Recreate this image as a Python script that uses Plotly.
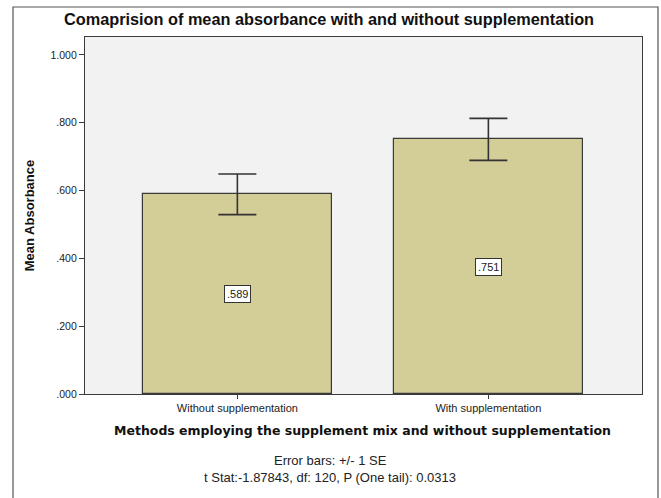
import plotly.graph_objects as go

# Data
categories = ["Without supplementation", "With supplementation"]
mean_absorbance = [0.589, 0.751]
std_error = [0.060, 0.062]
y_tick_values = [0.0, 0.2, 0.4, 0.6, 0.8, 1.0]
y_tick_labels = [".000", ".200", ".400", ".600", ".800", "1.000"]

BAR_FILL = "#d3cd98"
EDGE = "#3a3a3a"
FONT = "Liberation Sans, Arial, sans-serif"

W, H = 661, 498
L, R, T, B = 85, 19, 37, 104
pw, ph = W - L - R, H - T - B


def py(pixel_y):
    """Pixel row (from top of page) -> paper y coordinate."""
    return (H - B - pixel_y) / ph


def px(pixel_x):
    """Pixel column (from left of page) -> paper x coordinate."""
    return (pixel_x - L) / pw


fig = go.Figure()
fig.add_trace(go.Bar(
    x=categories,
    y=mean_absorbance,
    width=0.753,
    marker=dict(color=BAR_FILL, line=dict(color=EDGE, width=1.2)),
    error_y=dict(type="data", array=std_error, visible=True,
                 color="#333333", thickness=1.6, width=19),
    hoverinfo="skip",
))

# Value labels in the middle of each bar
for cat, val in zip(categories, mean_absorbance):
    fig.add_annotation(
        x=cat, y=val / 2, xref="x", yref="y",
        text=f"{val:.3f}".lstrip("0"),
        showarrow=False,
        font=dict(family=FONT, size=11, color="#222222"),
        bgcolor="white", bordercolor="#333333", borderwidth=1, borderpad=2,
    )

# Axis title and footnotes below the plot
fig.add_annotation(x=px(362), y=py(430), xref="paper", yref="paper",
                   xanchor="center", yanchor="middle",
                   text="<b>Methods employing the supplement mix and without supplementation</b>",
                   showarrow=False,
                   font=dict(family="DejaVu Sans, Verdana, sans-serif", size=12.5,
                             color="#111111"))
fig.add_annotation(x=px(330), y=py(460), xref="paper", yref="paper",
                   xanchor="center", yanchor="middle",
                   text="Error bars: +/- 1 SE", showarrow=False,
                   font=dict(family=FONT, size=13, color="#222222"))
fig.add_annotation(x=px(330), y=py(477), xref="paper", yref="paper",
                   xanchor="center", yanchor="middle",
                   text="t Stat:-1.87843, df: 120, P (One tail): 0.0313",
                   showarrow=False,
                   font=dict(family=FONT, size=13, color="#222222"))

# Outer frame around the whole chart
fig.add_shape(type="rect", xref="paper", yref="paper",
              x0=px(13), x1=px(658), y0=py(510), y1=py(7),
              line=dict(color="#555555", width=1.2))

fig.update_layout(
    width=W, height=H,
    margin=dict(l=L, r=R, t=T, b=B),
    paper_bgcolor="white",
    plot_bgcolor="#f2f2f2",
    showlegend=False,
    bargap=0,
    title=dict(text="Comaprision of mean absorbance with and without supplementation",
               x=px(329), xanchor="center", xref="paper",
               y=1 - 19 / H, yanchor="middle",
               font=dict(family=FONT, size=16.3, color="#111111", weight="bold")),
    xaxis=dict(
        range=[-0.607, 1.612],
        showline=True, mirror=True, linecolor=EDGE, linewidth=1.2,
        ticks="outside", ticklen=4, tickcolor=EDGE,
        tickfont=dict(family=FONT, size=11, color="#222222"),
        showgrid=False, zeroline=False,
    ),
    yaxis=dict(
        range=[0, 1.053],
        tickvals=y_tick_values, ticktext=y_tick_labels,
        showline=True, mirror=True, linecolor=EDGE, linewidth=1.2,
        ticks="outside", ticklen=5, tickcolor=EDGE,
        tickfont=dict(family=FONT, size=10.5, color="#222222"),
        showgrid=False, zeroline=False,
        title=dict(text="Mean Absorbance",
                   font=dict(family=FONT, size=13, color="#111111", weight="bold"),
                   standoff=12),
    ),
)

fig.write_html("out.html")
